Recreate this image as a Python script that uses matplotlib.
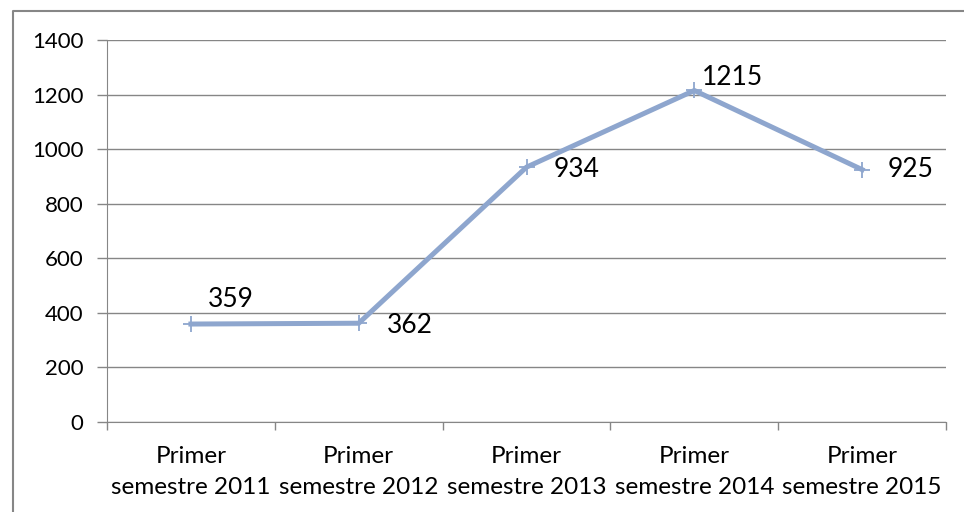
import matplotlib as mpl
mpl.use('Agg')
import matplotlib.pyplot as plt
import numpy as np
from matplotlib.lines import Line2D

categories = ["Primer\nsemestre 2011", "Primer\nsemestre 2012", "Primer\nsemestre 2013",
              "Primer\nsemestre 2014", "Primer\nsemestre 2015"]
values = [359, 362, 934, 1215, 925]
# label offsets in pixels (dx, dy) from each point
label_offsets = [(17, 25), (28, -2), (27, -2), (8, 13), (26, 0)]

plt.rcParams['font.family'] = ['Lato', 'DejaVu Sans']

fig = plt.figure(figsize=(9.64, 5.12), dpi=100)
ax = fig.add_axes([107 / 964, 1 - 422 / 512, (946 - 107) / 964, (422 - 40) / 512])

x = np.arange(len(values))
line_color = '#8EA6CE'
ax.plot(x, values, color=line_color, lw=3.6, marker='+', ms=12, mew=1.3,
        solid_joinstyle='miter', zorder=3)

for xi, v, (dx, dy) in zip(x, values, label_offsets):
  ax.annotate(str(v), (xi, v), xytext=(dx * 0.72, dy * 0.72), textcoords='offset points',
              ha='left', va='center', fontsize=19)

ax.set_xlim(-0.5, len(values) - 0.5)
ax.set_ylim(0, 1400)
ax.set_yticks(range(0, 1401, 200))
ax.set_xticks(x)
ax.set_xticklabels(categories, fontsize=17.5, linespacing=1.6)
ax.set_xticks(np.arange(-0.5, len(values)), minor=True)
ax.tick_params(axis='x', which='major', length=0, pad=17)
ax.tick_params(axis='x', which='minor', length=6, color='#868686', width=1)
ax.tick_params(axis='y', length=7, color='#868686', width=1, labelsize=16, pad=10)

ax.grid(axis='y', color='#868686', lw=1)
ax.set_axisbelow(True)
for s in ['top', 'right']:
  ax.spines[s].set_visible(False)
for s in ['left', 'bottom']:
  ax.spines[s].set_color('#868686')

# chart border (left and top edges)
fig.add_artist(Line2D([12.5 / 964, 12.5 / 964, 1], [0, 1 - 10.5 / 512, 1 - 10.5 / 512],
                      transform=fig.transFigure, color='#868686', lw=1.5))

plt.savefig('out.png', dpi=100)
